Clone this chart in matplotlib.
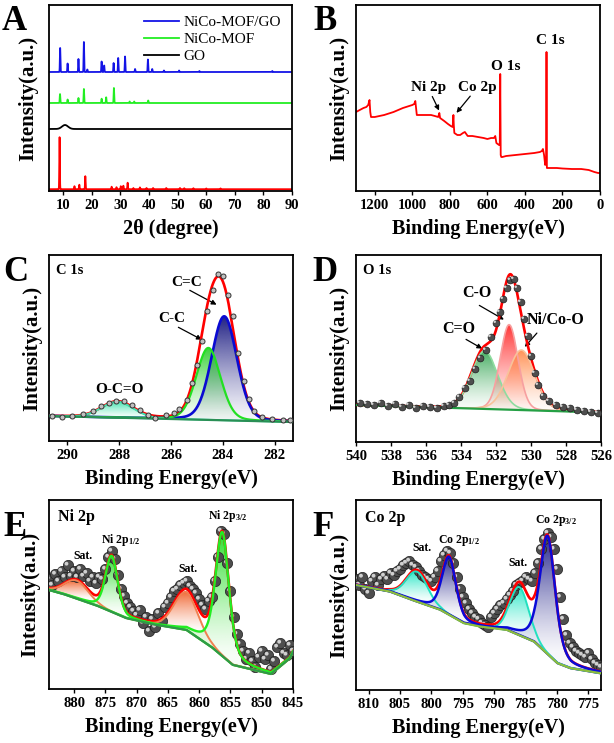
import numpy as np
import matplotlib
matplotlib.use("Agg")
import matplotlib.pyplot as plt
from matplotlib.colors import to_rgb
from matplotlib.transforms import ScaledTranslation

plt.rcParams['font.family'] = ['Liberation Serif', 'DejaVu Serif']
plt.rcParams['font.weight'] = 'bold'
plt.rcParams['mathtext.fontset'] = 'custom'
plt.rcParams['mathtext.rm'] = 'Liberation Serif:bold'
plt.rcParams['mathtext.it'] = 'Liberation Serif:bold'
plt.rcParams['mathtext.bf'] = 'Liberation Serif:bold'

# ---------------- Panel A : XRD (peak positions / heights) ----------------
xrd_names = ['NiCo-MOF/GO', 'NiCo-MOF', 'GO', 'simulated']
xrd_offsets = [119, 88, 62, 1.8]
blue_pos = [8.9, 11.5, 15.3, 17.2, 18.4, 23.4, 24.3, 27.6, 29.2, 31.6, 35.1, 39.6, 41.1, 45.2, 50.5, 57.6, 83.1]
blue_h = [24, 8.5, 13, 30, 2.5, 10.5, 6.5, 9, 14, 15.5, 3, 12.5, 3, 1.5, 1.5, 1, 1]
green_pos = [8.85, 11.5, 15.3, 17.2, 23.4, 25.0, 27.7, 33.2, 34.8, 39.7]
green_h = [9, 3.5, 5, 14, 4.3, 5.7, 15, 1.5, 1.5, 2.5]
go_pos = [10.6]
go_h = [4]
red_pos = [8.7, 13.9, 15.6, 17.7, 26.9, 28.6, 30.1, 31.0, 32.5, 34.5, 36.8, 39.1, 41.4, 46.0, 50.8, 52.3, 55.5, 60.0, 65.0]
red_h = [52, 3, 4.5, 13, 2.5, 2, 3, 3.5, 6.5, 1.2, 1.8, 1.2, 1.2, 1.2, 1.2, 1, 1, 0.8, 0.8]
xrd_ticks = [10, 20, 30, 40, 50, 60, 70, 80, 90]

# ---------------- Panel B : XPS survey ----------------
surv_E = [1300, 1280, 1260, 1245, 1235, 1228, 1224, 1220, 1200, 1150, 1100, 1050, 1000, 990, 984, 980,
          976, 960, 930, 900, 880, 862, 856, 852, 830, 810, 795, 785, 781, 779, 776, 760, 745, 730,
          720, 705, 680, 650, 620, 600, 580, 565, 558, 552, 545, 538, 534, 531.5, 529, 526, 520, 500,
          450, 400, 350, 320, 310, 304, 298, 292, 287, 285, 283, 279, 270, 230, 200, 150, 100, 60, 30, 10, 0]
surv_I = [79, 81, 83, 84, 86, 91, 79, 74, 74, 76, 79, 83, 86, 87, 90, 83,
          76, 76, 76, 76, 75, 74, 78, 73, 70, 67, 65, 64, 76, 66, 58, 56, 56, 58,
          59, 55, 55, 54, 53, 52, 53, 53, 55, 48, 47, 46, 46, 117, 36, 34, 34, 35,
          36, 37, 38, 39, 40, 42, 36, 26, 31, 139, 23, 23, 23, 23, 22.5, 22, 22, 21, 19, 18, 18]

# ---------------- Panel C : C 1s ----------------
C_pts_E = [290.6, 290.2, 289.8, 289.4, 289.0, 288.7, 288.4, 288.1, 287.8, 287.5, 287.2, 286.9, 286.6, 286.2,
           285.9, 285.7, 285.4, 285.2, 285.0, 284.8, 284.6, 284.4, 284.2, 284.0, 283.8, 283.6, 283.4, 283.2,
           283.0, 282.8, 282.5, 282.1, 281.7, 281.4]
C_pts_I = [25, 24, 25, 27, 30, 35, 38, 40, 40, 36, 31, 26, 23, 26,
           28, 32, 41, 58, 76, 100, 130, 151, 167, 165, 146, 125, 88, 60,
           42, 30, 24, 22, 21, 21]
C_bg_E = [290.7, 281.3]
C_bg_I = [25, 19]
C_names = ['C=C', 'C-C', 'O-C=O']
C_center = [283.95, 284.56, 288.06]
C_height = [104, 72, 16]
C_fwhm = [1.15, 1.1, 1.45]
C_eta = [0.15, 0.15, 0.1]

# ---------------- Panel D : O 1s ----------------
D_pts_E = [539.8, 539.4, 539.0, 538.6, 538.2, 537.8, 537.4, 537.0, 536.6, 536.2, 535.8, 535.4, 535.0,
           534.7, 534.4, 534.1, 533.8, 533.5, 533.2, 532.9, 532.6, 532.3, 532.0, 531.8, 531.6, 531.4,
           531.2, 531.0, 530.8, 530.6, 530.4, 530.2, 530.0, 529.8, 529.6, 529.3, 529.0, 528.6, 528.2,
           527.8, 527.4, 527.0, 526.6, 526.2]
D_pts_I = [38, 37, 36, 38, 35, 37, 34, 36, 33, 35, 34, 33, 35,
           36, 38, 44, 53, 60, 72, 83, 91, 104, 118, 129, 142, 153,
           161, 162, 153, 139, 122, 105, 85, 68, 56, 45, 40, 36, 34,
           33, 31, 30, 29, 28]
D_bg_E = [540, 526]
D_bg_I = [36, 28.5]
D_names = ['C=O', 'C-O', 'Ni/Co-O']
D_center = [532.65, 531.25, 530.55]
D_height = [58, 85, 60]
D_fwhm = [1.75, 1.2, 1.8]
D_eta = [0.1, 0.1, 0.1]

# ---------------- Panel E : Ni 2p ----------------
E_pts_I = [110, 104, 115, 108, 118, 112, 124, 113, 118, 112,
           120, 113, 116, 108, 112, 106, 112, 110, 120, 132,
           138, 130, 114, 100, 93, 86, 82, 78, 74, 79,
           66, 72, 58, 70, 62, 76, 68, 82, 86, 92,
           98, 100, 104, 106, 108, 103, 100, 96, 90, 84,
           80, 88, 92, 108, 132, 158, 155, 126, 98, 72,
           55, 45, 38, 30, 36, 28, 22, 32, 38, 30,
           34, 20, 28, 42, 46, 36, 34, 44, 38]
E_bg_E = [884, 881.2, 875.9, 871.6, 866.8, 862.0, 857.75, 854.6, 848.5, 845.5, 845]
E_bg_I = [99, 94, 82.3, 70.7, 64, 59, 40.7, 24, 15, 30.7, 37]
E_names = ['Sat.', 'Ni 2p$_{1/2}$', 'Sat.', 'Ni 2p$_{3/2}$']
E_center = [879.6, 874.0, 862.1, 856.3]
E_height = [18, 56, 38, 124]
E_fwhm = [4.5, 2.3, 4.6, 2.6]
E_eta = [0.1, 0.35, 0.1, 0.5]

# ---------------- Panel F : Co 2p ----------------
F_pts_I = [110, 104, 112, 100, 96, 108, 112, 104, 110, 113,
           110, 116, 114, 118, 120, 124, 126, 128, 124, 122,
           118, 114, 112, 110, 108, 112, 118, 128, 134, 138,
           136, 126, 112, 100, 92, 86, 80, 76, 72, 70,
           66, 64, 62, 72, 76, 80, 84, 86, 90, 94,
           98, 104, 106, 108, 112, 110, 108, 116, 126, 140,
           150, 156, 152, 140, 120, 92, 70, 54, 46, 42,
           38, 36, 34, 32, 36, 30, 26, 24, 22]
F_bg_E = [812, 806.5, 802.3, 798.5, 794.8, 792.1, 787.9, 783.6, 779.9, 777.8, 773]
F_bg_I = [104, 97.3, 87.3, 79, 65.7, 62.3, 59, 47.3, 25.7, 20.7, 15.7]
F_names = ['Sat.', 'Co 2p$_{1/2}$', 'Sat.', 'Co 2p$_{3/2}$']
F_center = [802.3, 797.2, 786.0, 781.5]
F_height = [30, 58, 48, 118]
F_fwhm = [4.0, 2.6, 3.5, 2.9]
F_eta = [0.1, 0.4, 0.1, 0.45]

# ==================================================================================
W, H = 614, 743
fig = plt.figure(figsize=(W / 100, H / 100), dpi=100)


def box(l, t, r, b):
    return [l / W, 1 - b / H, (r - l) / W, (b - t) / H]


axA = fig.add_axes(box(49, 5, 292, 191))
axB = fig.add_axes(box(356, 5, 600, 191))
axC = fig.add_axes(box(49, 255, 293, 441))
axD = fig.add_axes(box(356, 255, 601, 442))
axE = fig.add_axes(box(49, 500, 293, 689))
axF = fig.add_axes(box(356, 500, 601, 690))

TICKFS = 10.5
LABFS = 14.5


def style(ax, xlabel, ypad=5):
    for s in ax.spines.values():
        s.set_linewidth(1.3)
    ax.set_yticks([])
    ax.tick_params(axis='x', direction='out', length=3, width=1, pad=2.5, labelsize=TICKFS)
    for lab in ax.get_xticklabels():
        lab.set_fontweight('bold')
    ax.set_xlabel(xlabel, fontsize=LABFS, fontweight='bold', labelpad=5)
    ax.set_ylabel('Intensity(a.u.)', fontsize=LABFS + 0.5, fontweight='bold', labelpad=ypad)


def pv(x, c, h, w, eta):
    u = (x - c) / w
    return h * ((1 - eta) * np.exp(-4 * np.log(2) * u ** 2) + eta / (1 + 4 * u ** 2))


def grad_fill(ax, x, base, comp, color, c, h, alpha=0.95, z=2):
    top = base + comp
    poly = ax.fill_between(x, base, top, facecolor='none', edgecolor='none')
    path = poly.get_paths()[0]
    y0 = np.interp(c, x, base)
    ylo, yhi = base.min(), y0 + h
    ys = np.linspace(ylo, yhi, 300)
    t = np.clip((ys - y0) / h, 0, 1)
    rgba = np.zeros((300, 2, 4))
    rgba[..., :3] = to_rgb(color)
    rgba[..., 3] = (alpha * (0.04 + 0.96 * t ** 1.3))[:, None]
    im = ax.imshow(rgba, extent=[x.min(), x.max(), ylo, yhi], origin='lower',
                   aspect='auto', zorder=z, interpolation='bilinear')
    im.set_clip_path(path, transform=ax.transData)


def spheres(ax, x, y, s, z=3):
    ax.scatter(x, y, s=s, c='#4e4e4e', edgecolors='#1e1e1e', linewidths=0.5, zorder=z)
    off = ScaledTranslation(-1.3 / 100, 1.3 / 100, fig.dpi_scale_trans)
    ax.scatter(x, y, s=s * 0.14, c='#d0d0d0', edgecolors='none', zorder=z + 0.01,
               transform=ax.transData + off)


def xps(ax, lo, hi, bgE, bgI, centers, heights, fwhms, etas, lcolors, fcolors, bgcolor,
        lws, falpha=0.95):
    x = np.linspace(lo, hi, 1500)
    order = np.argsort(bgE)
    bg = np.interp(x, np.array(bgE)[order], np.array(bgI)[order])
    comps = [pv(x, c, h, w, e) for c, h, w, e in zip(centers, heights, fwhms, etas)]
    for comp, fc, c, h in zip(comps, fcolors, centers, heights):
        grad_fill(ax, x, bg, comp, fc, c, h, alpha=falpha)
    ax.plot(x, bg + np.sum(comps, axis=0), color='#ff0000', lw=1.9, zorder=4)
    for comp, lc, lw in zip(comps, lcolors, lws):
        ax.plot(x, bg + comp, color=lc, lw=lw, zorder=4.5)
    ax.plot(x, bg, color=bgcolor, lw=1.6, zorder=4.6)
    return x


# ---------------- A ----------------
tt = np.arange(5, 90.001, 0.02)


def pattern(pos, hh, w):
    y = np.zeros_like(tt)
    for p, h in zip(pos, hh):
        y += h * np.exp(-4 * np.log(2) * ((tt - p) / w) ** 2)
    return y


axA.plot(tt, xrd_offsets[0] + pattern(blue_pos, blue_h, 0.22), color='#1414e6', lw=1.3, label=xrd_names[0])
axA.plot(tt, xrd_offsets[1] + pattern(green_pos, green_h, 0.22), color='#22ee22', lw=1.3, label=xrd_names[1])
axA.plot(tt, xrd_offsets[2] + pattern(go_pos, go_h, 2.5), color='black', lw=1.3, label=xrd_names[2])
axA.plot(tt, xrd_offsets[3] + pattern(red_pos, red_h, 0.22), color='#ff0000', lw=1.3)
axA.set_xlim(5, 90)
axA.set_ylim(0, 186)
axA.set_xticks(xrd_ticks)
style(axA, '2θ (degree)', ypad=8)
leg = axA.legend(loc='upper right', frameon=False, prop={'size': 11, 'weight': 'normal'},
                 handlelength=2.3, labelspacing=0.2, handletextpad=0.3, borderaxespad=0.3)

# ---------------- B ----------------
axB.plot(surv_E, surv_I, color='#ff0000', lw=1.3)
axB.set_xlim(1300, 0)
axB.set_ylim(0, 186)
axB.set_xticks([1200, 1000, 800, 600, 400, 200, 0])
style(axB, 'Binding Energy(eV)', ypad=5)
akw = dict(fontsize=11, fontweight='bold', ha='center', va='center')
axB.text(266, 150, 'C 1s', **akw)
axB.text(502, 125, 'O 1s', **akw)
axB.text(913, 104, 'Ni 2p', **akw)
axB.text(651, 104, 'Co 2p', **akw)
arr = dict(arrowstyle='-|>', color='black', lw=0.9, mutation_scale=7)
axB.annotate('', xy=(851, 78), xytext=(900, 97), arrowprops=arr)
axB.annotate('', xy=(774, 76), xytext=(682, 97), arrowprops=arr)

# ---------------- C ----------------
xps(axC, 281.3, 290.7, C_bg_E, C_bg_I, C_center, C_height, C_fwhm, C_eta,
    ['#0a0ad2', '#22e022', '#3fe3b0'], ['#14147e', '#2fcf2f', '#35e0a8'], '#2a8f55', [1.9, 1.6, 1.4])
axC.scatter(C_pts_E, C_pts_I, s=13, facecolors='#c0c0c0', edgecolors='#333333', linewidths=0.7, zorder=6)
axC.set_xlim(290.7, 281.3)
axC.set_ylim(0, 186)
axC.set_xticks([290, 288, 286, 284, 282])
style(axC, 'Binding Energy(eV)', ypad=5)
axC.text(0.03, 0.95, 'C 1s', transform=axC.transAxes, fontsize=10.5, fontweight='bold', va='top')
axC.text(285.38, 158, 'C=C', fontsize=11, fontweight='bold', ha='center', va='center')
axC.text(285.99, 122, 'C-C', fontsize=11, fontweight='bold', ha='center', va='center')
axC.text(287.97, 51, 'O-C=O', fontsize=11, fontweight='bold', ha='center', va='center')
axC.annotate('', xy=(284.15, 135), xytext=(285.37, 152), arrowprops=arr)
axC.annotate('', xy=(284.72, 100), xytext=(285.81, 115), arrowprops=arr)

# ---------------- D ----------------
xps(axD, 526, 540, D_bg_E, D_bg_I, D_center, D_height, D_fwhm, D_eta,
    ['#8fdca0', '#f7a0a0', '#f8c29a'], ['#3aa858', '#ff2a2a', '#ff8a4a'], '#25a045', [1.2, 1.2, 1.2])
spheres(axD, D_pts_E, D_pts_I, 24, z=6)
axD.set_xlim(540, 526)
axD.set_ylim(-1, 186)
axD.set_xticks(list(range(540, 525, -2)))
style(axD, 'Binding Energy(eV)', ypad=5)
axD.text(0.03, 0.95, 'O 1s', transform=axD.transAxes, fontsize=10.5, fontweight='bold', va='top')
axD.text(533.09, 148, 'C-O', fontsize=11.5, fontweight='bold', ha='center', va='center')
axD.text(534.13, 112, 'C=O', fontsize=11.5, fontweight='bold', ha='center', va='center')
axD.text(528.6, 121, 'Ni/Co-O', fontsize=11.5, fontweight='bold', ha='center', va='center')
axD.annotate('', xy=(531.41, 120), xytext=(533.09, 137), arrowprops=arr)
axD.annotate('', xy=(532.65, 91), xytext=(533.85, 103), arrowprops=arr)
axD.annotate('', xy=(530.46, 92), xytext=(529.56, 110), arrowprops=arr)

# ---------------- E ----------------
E_grid = np.arange(884.0, 844.99, -0.5)
xps(axE, 845, 884, E_bg_E, E_bg_I, E_center, E_height, E_fwhm, E_eta,
    ['#f08050', '#22ee22', '#f08050', '#22ee22'], ['#f0602a', '#22dd22', '#f0602a', '#22dd22'],
    '#2e9a48', [1.4, 1.7, 1.4, 1.7])
spheres(axE, E_grid, E_pts_I, 55, z=3)
axE.set_xlim(884, 845)
axE.set_ylim(0, 189)
axE.set_xticks(list(range(880, 844, -5)))
style(axE, 'Binding Energy(eV)', ypad=6)
axE.text(0.035, 0.95, 'Ni 2p', transform=axE.transAxes, fontsize=11.5, fontweight='bold', va='top')
skw = dict(fontsize=8.5, fontweight='bold', ha='center', va='center')
axE.text(878.6, 133, E_names[0], **skw)
axE.text(872.6, 149, E_names[1], **skw)
axE.text(861.75, 120, E_names[2], **skw)
axE.text(855.4, 173, E_names[3], **skw)

# ---------------- F ----------------
F_grid = np.arange(812.0, 772.99, -0.5)
xps(axF, 773, 812, F_bg_E, F_bg_I, F_center, F_height, F_fwhm, F_eta,
    ['#22e0c0', '#0a0ad8', '#22e0c0', '#0a0ad8'], ['#20e6c4', '#1a1a86', '#20e6c4', '#1a1a86'],
    '#8cbc3c', [1.4, 1.8, 1.4, 1.8])
spheres(axF, F_grid, F_pts_I, 55, z=3)
axF.set_xlim(812, 773)
axF.set_ylim(-1, 189)
axF.set_xticks(list(range(810, 774, -5)))
style(axF, 'Binding Energy(eV)', ypad=5)
axF.text(0.035, 0.95, 'Co 2p', transform=axF.transAxes, fontsize=11.5, fontweight='bold', va='top')
axF.text(801.5, 141, F_names[0], **skw)
axF.text(795.6, 149, F_names[1], **skw)
axF.text(786.2, 126, F_names[2], **skw)
axF.text(780.2, 169, F_names[3], **skw)

# panel letters
for lab, px, py in [('A', 2, 5), ('B', 313, 5), ('C', 3, 256), ('D', 312, 256), ('E', 3, 511), ('F', 312, 511)]:
    fig.text(px / W, 1 - py / H, lab, fontsize=25, fontweight='bold', ha='left', va='top')

fig.savefig('out.png', dpi=100)
